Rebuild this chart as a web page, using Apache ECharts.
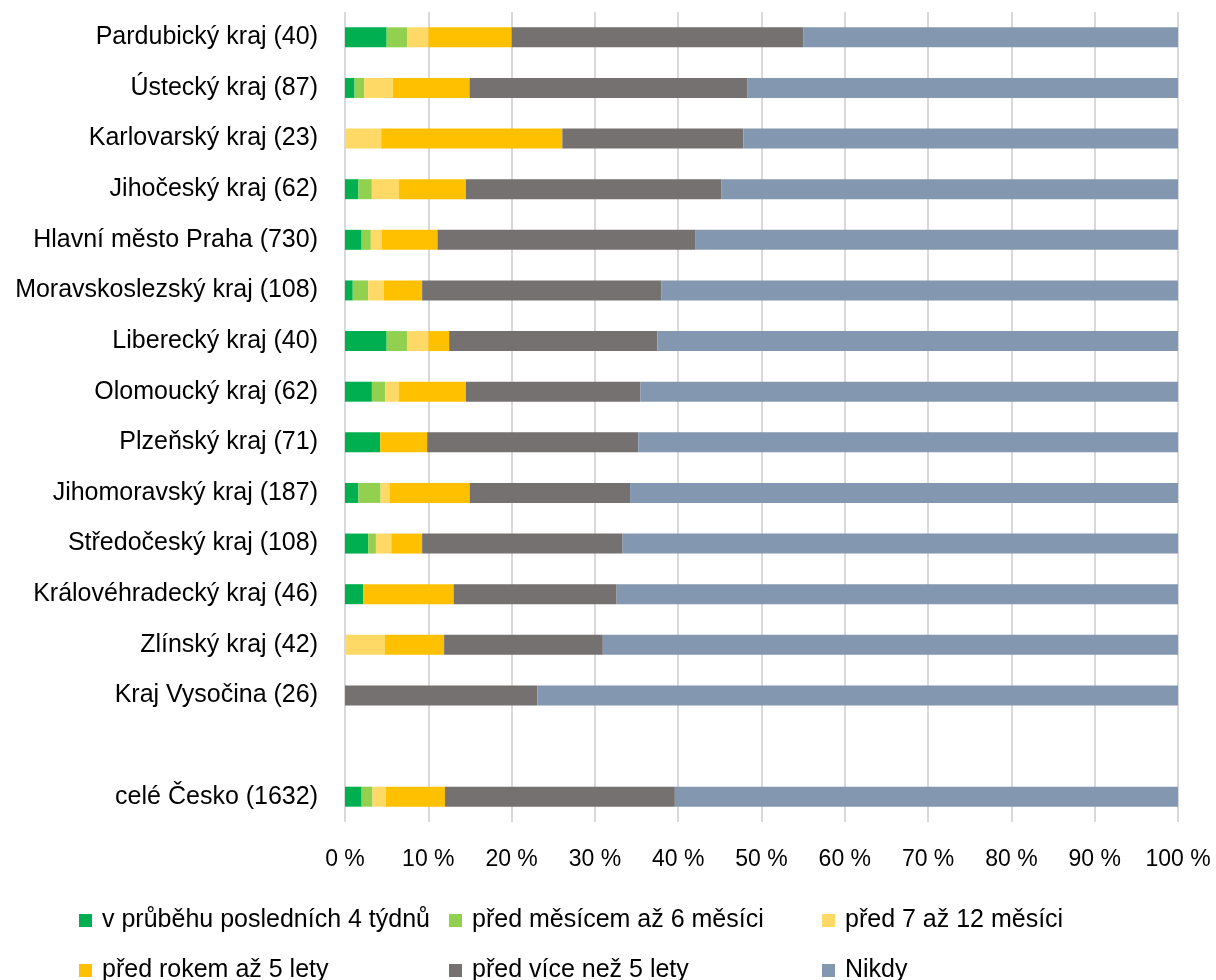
<!DOCTYPE html>
<html>
<head>
<meta charset="utf-8">
<script src="https://cdn.jsdelivr.net/npm/echarts@6/dist/echarts.min.js"></script>
<style>
html,body{margin:0;padding:0;background:#fff;}
#chart{width:1216px;height:980px;}
</style>
</head>
<body>
<div id="chart"></div>
<script>
const categories = ["Pardubický kraj (40)", "Ústecký kraj (87)", "Karlovarský kraj (23)", "Jihočeský kraj (62)", "Hlavní město Praha (730)", "Moravskoslezský kraj (108)", "Liberecký kraj (40)", "Olomoucký kraj (62)", "Plzeňský kraj (71)", "Jihomoravský kraj (187)", "Středočeský kraj (108)", "Královéhradecký kraj (46)", "Zlínský kraj (42)", "Kraj Vysočina (26)", "", "celé Česko (1632)"];
const seriesNames = ["v průběhu posledních 4 týdnů", "před měsícem až 6 měsíci", "před 7 až 12 měsíci", "před rokem až 5 lety", "před více než 5 lety", "Nikdy"];
const green =       [5.0, 1.15, 0, 1.61, 2.0, 0.93, 5.0, 3.23, 4.23, 1.6, 2.78, 2.17, 0, 0, null, 2.0];
const lightGreen =  [2.5, 1.15, 0, 1.61, 1.1, 1.85, 2.5, 1.61, 0, 2.67, 0.93, 0, 0, 0, null, 1.3];
const lightYellow = [2.5, 3.45, 4.35, 3.23, 1.3, 1.85, 2.5, 1.61, 0, 1.07, 1.85, 0, 4.76, 0, null, 1.6];
const yellow =      [10, 9.2, 21.74, 8.06, 6.7, 4.63, 2.5, 8.06, 5.63, 9.63, 3.7, 10.87, 7.14, 0, null, 7.1];
const gray =        [35, 33.33, 21.74, 30.65, 31.0, 28.7, 25, 20.97, 25.35, 19.25, 24.07, 19.57, 19.05, 23.08, null, 27.6];
const nikdy =       [45, 51.72, 52.17, 54.84, 57.9, 62.04, 62.5, 64.52, 64.79, 65.78, 66.67, 67.39, 69.05, 76.92, null, 60.4];
const xTicks = { min: 0, max: 100, interval: 10 };

const colors = ["#00B050", "#92D050", "#FFD966", "#FFC000", "#767171", "#8497B0"];
const values = [green, lightGreen, lightYellow, yellow, gray, nikdy];
const FONT = "Liberation Sans";

const chart = echarts.init(document.getElementById('chart'), null, {renderer: 'canvas'});
const legendPos = [[74, 903], [444, 903], [817, 903], [74, 953], [444, 953], [817, 953]];
const option = {
  animation: false,
  textStyle: { fontFamily: FONT },
  grid: { left: 345, right: 38, top: 12, bottom: 158, containLabel: false },
  xAxis: {
    type: 'value', min: xTicks.min, max: xTicks.max, interval: xTicks.interval,
    axisLine: { show: false }, axisTick: { show: false },
    splitLine: { show: true, lineStyle: { color: '#D9D9D9', width: 2 } },
    axisLabel: { formatter: '{value} %', color: '#000', fontSize: 23, fontFamily: FONT, margin: 26 }
  },
  yAxis: {
    type: 'category', data: categories, inverse: true,
    axisLine: { show: false }, axisTick: { show: false },
    axisLabel: { color: '#000', fontSize: 25, fontFamily: FONT, margin: 27 }
  },
  legend: seriesNames.map((n, i) => ({
    data: [n], left: legendPos[i][0], top: legendPos[i][1],
    itemWidth: 13, itemHeight: 13, icon: 'rect', itemGap: 8,
    textStyle: { color: '#000', fontSize: 25, fontFamily: FONT, padding: [0, 0, 0, 5] }
  })),
  series: seriesNames.map((n, i) => ({
    name: n, type: 'bar', stack: 'total', data: values[i],
    barWidth: 20,
    itemStyle: { color: colors[i] }
  }))
};
chart.setOption(option);
</script>
</body>
</html>
